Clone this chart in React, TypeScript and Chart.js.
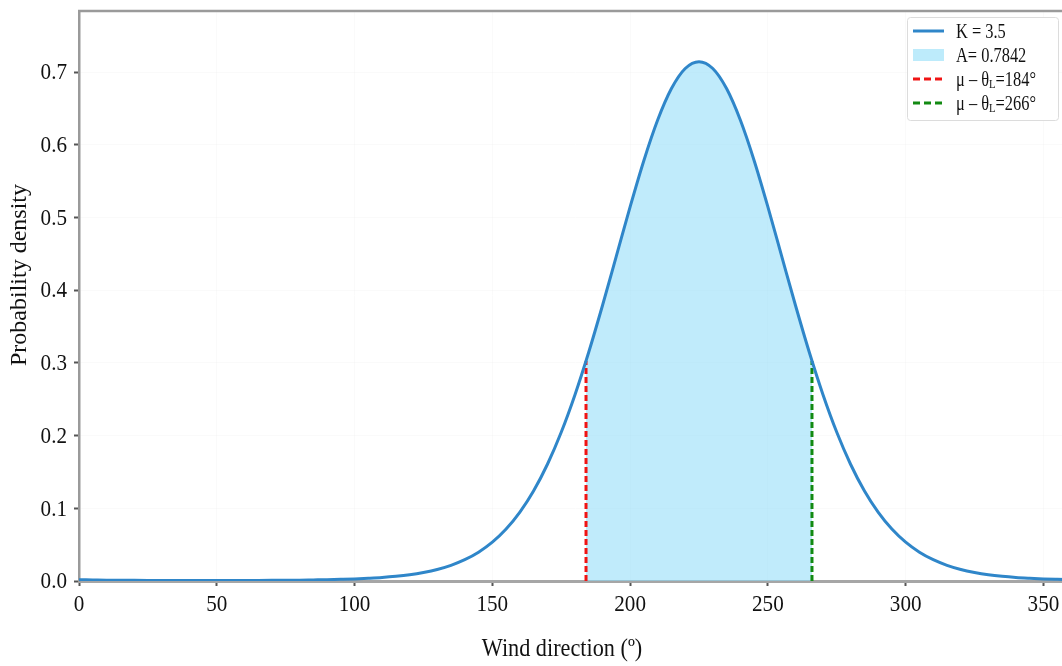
import React, { useEffect, useRef } from "react";
import { Chart, registerables } from "chart.js";

Chart.register(...registerables);

// Wind direction (degrees) sampled every 5°
const directions: number[] = [
  0, 5, 10, 15, 20, 25, 30, 35, 40, 45, 50, 55, 60, 65, 70, 75, 80, 85, 90,
  95, 100, 105, 110, 115, 120, 125, 130, 135, 140, 145, 150, 155, 160, 165,
  170, 175, 180, 185, 190, 195, 200, 205, 210, 215, 220, 225, 230, 235, 240,
  245, 250, 255, 260, 265, 270, 275, 280, 285, 290, 295, 300, 305, 310, 315,
  320, 325, 330, 335, 340, 345, 350, 355, 360,
];
// Probability density (K = 3.5)
const density: number[] = [
  0.0018, 0.0015, 0.0012, 0.001, 0.0009, 0.0008, 0.0007, 0.0007, 0.0007,
  0.0007, 0.0007, 0.0007, 0.0007, 0.0008, 0.0009, 0.001, 0.0012, 0.0015,
  0.0018, 0.0023, 0.0029, 0.0038, 0.0049, 0.0065, 0.0087, 0.0118, 0.0159,
  0.0216, 0.0293, 0.0396, 0.0534, 0.0714, 0.0947, 0.1241, 0.1606, 0.2046,
  0.2563, 0.315, 0.3793, 0.4469, 0.5146, 0.5784, 0.634, 0.6773, 0.7049,
  0.7143, 0.7049, 0.6773, 0.634, 0.5784, 0.5146, 0.4469, 0.3793, 0.315,
  0.2563, 0.2046, 0.1606, 0.1241, 0.0947, 0.0714, 0.0534, 0.0396, 0.0293,
  0.0216, 0.0159, 0.0118, 0.0087, 0.0065, 0.0049, 0.0038, 0.0029, 0.0023,
  0.0018,
];
// Shaded area between the two limits
const areaDirections: number[] = [
  184, 185, 190, 195, 200, 205, 210, 215, 220, 225, 230, 235, 240, 245, 250,
  255, 260, 265, 266,
];
const areaDensity: number[] = [
  0.3027, 0.315, 0.3793, 0.4469, 0.5146, 0.5784, 0.634, 0.6773, 0.7049,
  0.7143, 0.7049, 0.6773, 0.634, 0.5784, 0.5146, 0.4469, 0.3793, 0.315,
  0.3027,
];
const lowerLimit = 184;
const upperLimit = 266;
const limitDensity = 0.3027;

const xTicks: number[] = [0, 50, 100, 150, 200, 250, 300, 350];
const yTicks: number[] = [0, 0.1, 0.2, 0.3, 0.4, 0.5, 0.6, 0.7];

const legendLabels = ["K = 3.5", "A= 0.7842", "μ – θ|L|=184°", "μ – θ|L|=266°"];
const xTitle = "Wind direction (º)";
const yTitle = "Probability density";

const BLUE = "#2f86c9";
const FILL = "rgba(140,218,248,0.55)";
const RED = "#f01414";
const GREEN = "#128a12";
const SERIF = '"Liberation Serif", "Times New Roman", serif';
const SQUASH = 0.86;

function squashedText(
  ctx: CanvasRenderingContext2D,
  text: string,
  x: number,
  y: number,
  size: number,
  align: CanvasTextAlign,
  baseline: CanvasTextBaseline,
  sx = SQUASH
) {
  ctx.save();
  ctx.font = `${size}px ${SERIF}`;
  ctx.textAlign = align;
  ctx.textBaseline = baseline;
  ctx.translate(x, y);
  ctx.scale(sx, 1);
  ctx.fillText(text, 0, 0);
  const w = ctx.measureText(text).width * sx;
  ctx.restore();
  return w;
}

export default function App() {
  const ref = useRef<HTMLCanvasElement | null>(null);

  useEffect(() => {
    if (!ref.current) return;

    const overlay = {
      id: "overlay",
      afterDraw(chart: any) {
        const { ctx, chartArea } = chart;
        const xs = chart.scales.x;
        const ys = chart.scales.y;
        ctx.save();
        // top border
        ctx.strokeStyle = "#9a9a9a";
        ctx.lineWidth = 2.5;
        ctx.beginPath();
        ctx.moveTo(chartArea.left - 1, chartArea.top);
        ctx.lineTo(chartArea.right, chartArea.top);
        ctx.stroke();

        ctx.fillStyle = "#111";
        // tick labels
        xTicks.forEach((v) => {
          squashedText(ctx, String(v), xs.getPixelForValue(v), 605, 24, "center", "middle", 0.88);
        });
        yTicks.forEach((v) => {
          squashedText(ctx, v.toFixed(1), 67, ys.getPixelForValue(v) + 1, 24, "right", "middle", 0.88);
        });

        // axis titles
        squashedText(ctx, xTitle, 562, 649, 25, "center", "middle", 0.89);
        ctx.save();
        ctx.translate(20, 275);
        ctx.rotate(-Math.PI / 2);
        ctx.font = `24px ${SERIF}`;
        ctx.textAlign = "center";
        ctx.textBaseline = "middle";
        ctx.fillText(yTitle, 0, 0);
        ctx.restore();

        // legend
        const bx = 907, by = 17, bw = 151, bh = 103;
        ctx.fillStyle = "rgba(255,255,255,0.9)";
        ctx.strokeStyle = "#dcdcdc";
        ctx.lineWidth = 1;
        ctx.beginPath();
        ctx.roundRect(bx + 0.5, by + 0.5, bw, bh, 3);
        ctx.fill();
        ctx.stroke();
        const rows = [31, 55, 79, 103];
        const hx0 = 913, hx1 = 944, tx = 956;
        // handles
        ctx.lineWidth = 3;
        ctx.strokeStyle = BLUE;
        ctx.beginPath();
        ctx.moveTo(hx0, rows[0]);
        ctx.lineTo(hx1, rows[0]);
        ctx.stroke();
        ctx.fillStyle = "#bdebfb";
        ctx.fillRect(hx0, rows[1] - 6, hx1 - hx0, 12);
        ctx.setLineDash([7, 4]);
        ctx.strokeStyle = RED;
        ctx.beginPath();
        ctx.moveTo(hx0, rows[2]);
        ctx.lineTo(hx1, rows[2]);
        ctx.stroke();
        ctx.strokeStyle = GREEN;
        ctx.beginPath();
        ctx.moveTo(hx0, rows[3]);
        ctx.lineTo(hx1, rows[3]);
        ctx.stroke();
        ctx.setLineDash([]);
        // texts
        ctx.fillStyle = "#111";
        legendLabels.forEach((lab, i) => {
          const base = rows[i] + 7;
          const parts = lab.split("|");
          let x = tx;
          parts.forEach((p, j) => {
            if (j === 1) {
              x += squashedText(ctx, p, x, base + 2, 13, "left", "alphabetic", 0.82);
            } else {
              x += squashedText(ctx, p, x, base, 20, "left", "alphabetic", 0.82);
            }
          });
        });
        ctx.restore();
      },
    };

    const chart = new Chart(ref.current, {
      type: "line",
      data: {
        datasets: [
          {
            label: "curve",
            data: directions.map((d, i) => ({ x: d, y: density[i] })),
            borderColor: BLUE,
            borderWidth: 3,
            pointRadius: 0,
            fill: false,
            cubicInterpolationMode: "monotone",
          },
          {
            label: "lower",
            data: [
              { x: lowerLimit, y: 0 },
              { x: lowerLimit, y: limitDensity },
            ],
            borderColor: RED,
            borderWidth: 3,
            borderDash: [6, 3],
            pointRadius: 0,
            fill: false,
          },
          {
            label: "upper",
            data: [
              { x: upperLimit, y: 0 },
              { x: upperLimit, y: limitDensity },
            ],
            borderColor: GREEN,
            borderWidth: 3,
            borderDash: [6, 3],
            pointRadius: 0,
            fill: false,
          },
          {
            label: "area",
            data: areaDirections.map((d, i) => ({ x: d, y: areaDensity[i] })),
            borderWidth: 0,
            borderColor: "rgba(0,0,0,0)",
            backgroundColor: FILL,
            pointRadius: 0,
            fill: "origin",
            cubicInterpolationMode: "monotone",
          },
        ],
      },
      options: {
        animation: false,
        responsive: false,
        devicePixelRatio: 1,
        layout: { padding: { top: 11, right: 9, left: 0, bottom: 0 } },
        plugins: {
          legend: { display: false },
          tooltip: { enabled: false },
        },
        scales: {
          x: {
            type: "linear",
            min: 0,
            max: 360,
            afterBuildTicks: (s: any) => {
              s.ticks = xTicks.map((v) => ({ value: v }));
            },
            afterFit: (s: any) => {
              s.height = 85;
              s.paddingLeft = 0;
              s.paddingRight = 0;
            },
            ticks: {
              font: { family: SERIF, size: 21 },
              color: "rgba(0,0,0,0)",
              padding: 6,
              maxRotation: 0,
            },
            grid: {
              color: "rgba(0,0,0,0.018)",
              tickColor: "#555",
              tickLength: 5,
              tickWidth: 2,
            },
            border: { color: "#a6a6a6", width: 3 },
          },
          y: {
            type: "linear",
            min: 0,
            max: 0.784,
            afterBuildTicks: (s: any) => {
              s.ticks = yTicks.map((v) => ({ value: v }));
            },
            afterFit: (s: any) => {
              s.width = 79;
              s.paddingTop = 0;
              s.paddingBottom = 0;
            },
            ticks: {
              font: { family: SERIF, size: 21 },
              color: "rgba(0,0,0,0)",
              padding: 6,
              callback: (v: any) => Number(v).toFixed(1),
            },
            grid: {
              color: "rgba(0,0,0,0.018)",
              tickColor: "#555",
              tickLength: 5,
              tickWidth: 2,
            },
            border: { color: "#9a9a9a", width: 2.5 },
          },
        },
      },
      plugins: [overlay],
    });

    return () => chart.destroy();
  }, []);

  return (
    <div
      style={{
        position: "fixed",
        left: 0,
        top: 0,
        width: 1062,
        height: 666,
        overflow: "hidden",
        background: "#fff",
      }}
    >
      <canvas
        ref={ref}
        width={1080}
        height={666}
        style={{ display: "block", width: 1080, height: 666 }}
      />
    </div>
  );
}
